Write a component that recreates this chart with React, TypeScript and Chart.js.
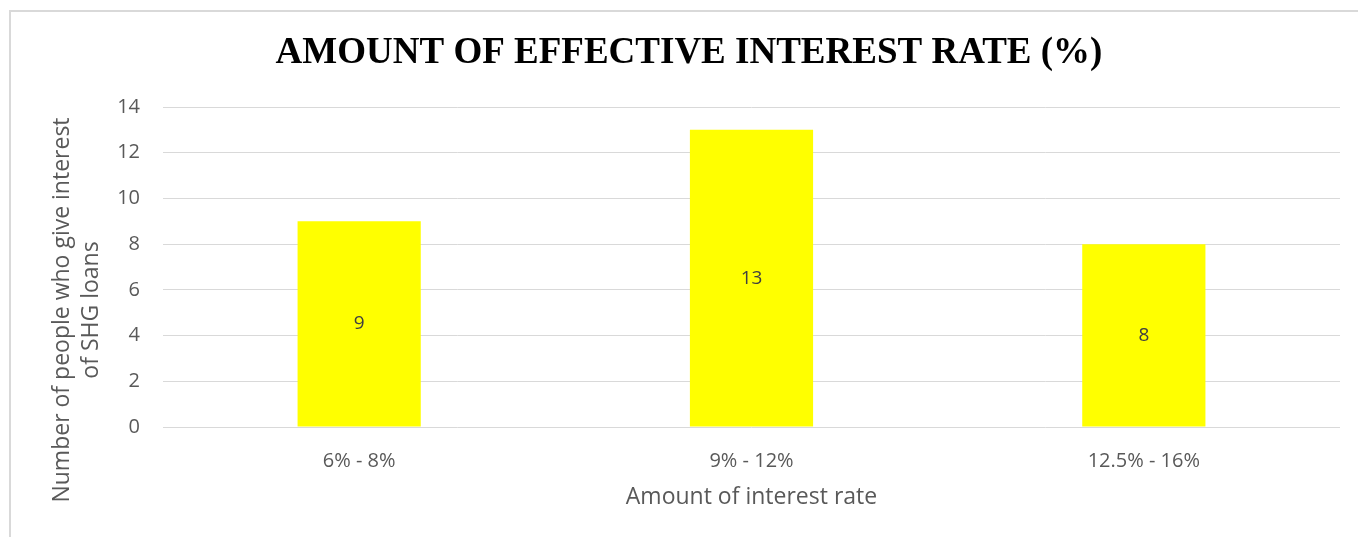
import React, { useEffect, useRef } from "react";
import { Chart, registerables } from "chart.js";

Chart.register(...registerables);

const categories = ["6% - 8%", "9% - 12%", "12.5% - 16%"];
const counts = [9, 13, 8];
const chartTitle = "AMOUNT OF EFFECTIVE INTEREST RATE (%)";
const yTitle = ["Number of people who give interest", "of SHG loans"];
const xTitle = "Amount of interest rate";

const AXIS_FONT = "'Open Sans', 'Noto Sans', sans-serif";

const barLabelPlugin = {
  id: "barLabels",
  afterDatasetsDraw(chart: any) {
    const ctx = chart.ctx;
    const meta = chart.getDatasetMeta(0);
    ctx.save();
    ctx.font = `19px ${AXIS_FONT}`;
    ctx.fillStyle = "#404040";
    ctx.textAlign = "center";
    ctx.textBaseline = "middle";
    meta.data.forEach((bar: any, i: number) => {
      const { x, y, base } = bar.getProps(["x", "y", "base"], true);
      ctx.fillText(String(chart.data.datasets[0].data[i]), x, (y + base) / 2);
    });
    ctx.restore();
  },
};

const yTitlePlugin = {
  id: "yTitleText",
  afterDraw(chart: any) {
    const ctx = chart.ctx;
    ctx.save();
    ctx.font = `23px ${AXIS_FONT}`;
    ctx.fillStyle = "#595959";
    ctx.textAlign = "center";
    ctx.textBaseline = "middle";
    const cy = 310;
    const xs = [62, 91];
    yTitle.forEach((line, i) => {
      ctx.save();
      ctx.translate(xs[i], cy);
      ctx.rotate(-Math.PI / 2);
      ctx.fillText(line, 0, 0);
      ctx.restore();
    });
    ctx.restore();
  },
};

export default function App() {
  const ref = useRef<HTMLCanvasElement | null>(null);
  useEffect(() => {
    if (!ref.current) return;
    const chart = new Chart(ref.current, {
      type: "bar",
      data: {
        labels: categories,
        datasets: [
          {
            data: counts,
            backgroundColor: "#FFFF00",
            borderWidth: 0,
            categoryPercentage: 1,
            barPercentage: 0.314,
          },
        ],
      },
      options: {
        animation: false,
        responsive: false,
        layout: { padding: { left: 38, right: 18, top: 0, bottom: 0 } },
        plugins: {
          legend: { display: false },
          tooltip: { enabled: false },
          title: {
            display: true,
            text: chartTitle,
            color: "#000000",
            font: { family: "'Liberation Serif', 'Times New Roman', serif", size: 37, weight: "bold", lineHeight: 1.2 },
            padding: { top: 31, bottom: 31.6 },
          },
        },
        scales: {
          x: {
            grid: { display: false, drawTicks: false },
            border: { display: false },
            ticks: { color: "#595959", font: { family: AXIS_FONT, size: 20 }, padding: 22 },
            title: {
              display: true,
              text: xTitle,
              color: "#595959",
              font: { family: AXIS_FONT, size: 23, lineHeight: 1.2 },
              padding: { top: 0, bottom: 26 },
            },
            afterFit(scale: any) {
              scale.height = 110;
            },
          },
          y: {
            min: 0,
            max: 14,
            ticks: { stepSize: 2, color: "#595959", font: { family: AXIS_FONT, size: 20 }, padding: 23 },
            grid: { color: "#d9d9d9", lineWidth: 1, drawTicks: false },
            border: { display: false },
            title: { display: false },
            afterFit(scale: any) {
              scale.width = 125;
            },
          },
        },
      },
      plugins: [barLabelPlugin, yTitlePlugin],
    });
    return () => chart.destroy();
  }, []);

  return (
    <div style={{ position: "absolute", left: 0, top: 0, width: 1358, height: 537, overflow: "hidden", background: "#fff" }}>
      <div
        style={{
          position: "absolute",
          left: 9,
          top: 10,
          width: 1400,
          height: 600,
          border: "2px solid #d9d9d9",
          boxSizing: "border-box",
        }}
      />
      <canvas ref={ref} width={1358} height={537} style={{ position: "absolute", left: 0, top: 0, display: "block" }} />
    </div>
  );
}
